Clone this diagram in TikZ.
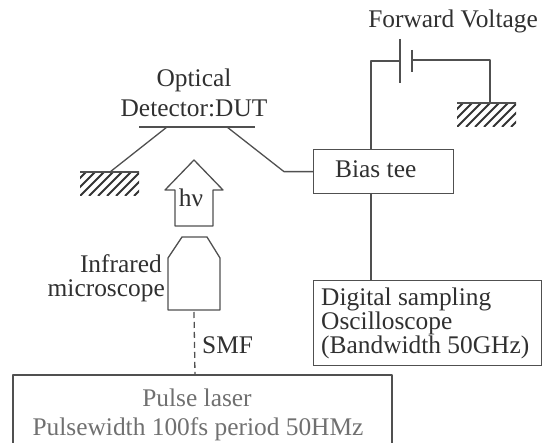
\documentclass[tikz,border=0pt]{standalone}
\usepackage{fontspec}
\setmainfont{Liberation Serif}
\definecolor{ln}{HTML}{505050}
\definecolor{tx}{HTML}{303030}
\definecolor{lt}{HTML}{707070}
\tikzset{
  wire/.style={draw=ln,line width=1.3pt,line join=round},
  lbl/.style={inner sep=0pt,text=tx,font=\fontsize{25.4}{30}\selectfont},
  boxn/.style={draw=ln,line width=1.3pt,inner sep=0pt,anchor=north west},
  hatchl/.style={draw=black!80,line width=2pt},
}
\newcommand{\groundsym}[2]{%
  \begin{scope}
    \clip (#1,#2) rectangle ++(59,24);
    \foreach \k in {-2,...,12}{\draw[hatchl] (#1+\k*9,#2+24) -- ++(24,-24);}
  \end{scope}
  \draw[wire] (#1,#2) -- ++(59,0);
}
\begin{document}
\begin{tikzpicture}[x=1pt,y=-1pt]
\useasboundingbox (0,0) rectangle (542,443);
% text
\node[lbl,anchor=base] (opt) at (194,87) {Optical};
\node[lbl,anchor=base] (det) at (194,117) {Detector:DUT};
\node[lbl,anchor=base east] (fv) at (538,28) {Forward Voltage};
\node[lbl,anchor=base] (hv) at (191,207) {hν};
\node[lbl,anchor=base east] (inf) at (162,273) {Infrared};
\node[lbl,anchor=base east] (mic) at (165,297) {microscope};
\node[lbl,anchor=base west] (smf) at (202,354) {SMF};
% boxes
\node[boxn,minimum width=140pt,minimum height=44pt] (bias) at (313,149) {};
\node[lbl,anchor=base west] (biast) at (335,178) {Bias tee};
\node[boxn,minimum width=228pt,minimum height=85pt] (osc) at (312.5,280) {};
\node[lbl,anchor=base west] (o1) at (321,306) {Digital sampling};
\node[lbl,anchor=base west] (o2) at (321,330) {Oscilloscope};
\node[lbl,anchor=base west] (o3) at (321,354) {(Bandwidth 50GHz)};
\coordinate (lasTL) at (13,375);
\coordinate (lasTR) at (392,375);
\coordinate (lasBL) at (13,443);
\coordinate (lasBR) at (392,443);
\draw[wire] (lasBL) -- (lasTL) -- (lasTR) -- (lasBR);
\node[lbl,anchor=base,text=lt] (las1) at (197,407) {Pulse laser};
\node[lbl,anchor=base,text=lt] (las2) at (198,436) {Pulsewidth 100fs period 50HMz};
% detector
\coordinate (dl) at (139,127); \coordinate (dr) at (255,127);
\draw[wire] (dl) -- (dr);
\coordinate (g1) at (110,172);
\draw[wire] (167,127) -- (g1);
\groundsym{80}{172}
\coordinate (bend) at (284,171);
\draw[wire] (227,127) -- (bend |- bias.west) -- (bias.west);
% arrow
\draw[wire] (175,226) -- (175,190) -- (165,190) -- (194,160) -- (223,190) -- (213,190) -- (213,226) -- cycle;
% microscope
\draw[wire] (168,310) -- (168,258) -- (182,237) -- (207,237) -- (220,258) -- (220,310) -- cycle;
\draw[wire,dash pattern=on 6pt off 4pt] (194,312) -- (195,375);
% battery
\coordinate (b1) at (400,61); \coordinate (b2) at (412,60);
\draw[wire] (371,149) -- (371,61) -- (b1);
\draw[wire] (400,39) -- (400,83);
\draw[wire,line width=1.8pt] (412,50) -- (412,72);
\draw[wire] (b2) -- (490,60) -- (490,103);
\groundsym{457}{103}
\draw[wire] (371,193) -- (371,280);
\end{tikzpicture}
\end{document}
